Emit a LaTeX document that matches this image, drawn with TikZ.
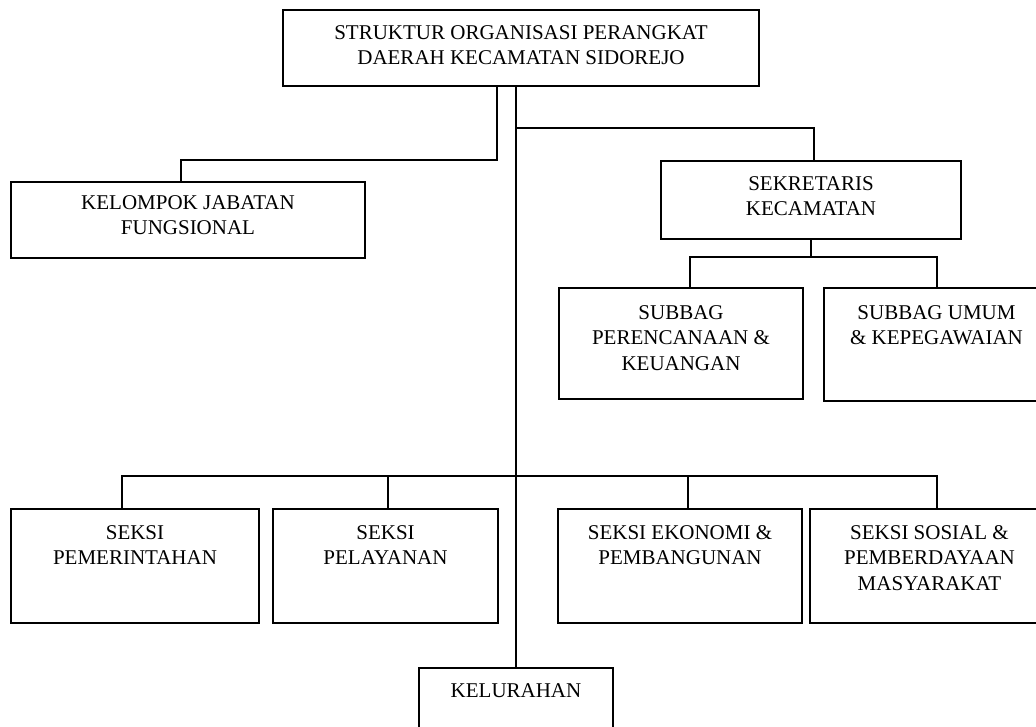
\documentclass[tikz,border=0pt]{standalone}
\usepackage{fontspec}
\setmainfont{Liberation Serif}
\usetikzlibrary{positioning, calc}

\tikzset{
  box/.style={draw, line width=2pt, inner sep=0pt, anchor=north west},
  boxtext/.style={align=center, inner sep=0pt, font=\fontsize{21}{25.5}\selectfont},
  link/.style={line width=2pt},
}

\begin{document}
\begin{tikzpicture}[x=1pt, y=-1pt]
  \useasboundingbox (0,0) rectangle (1036,726);
  \clip (0,0) rectangle (1036,726);

  % Boxes
  \node[box, minimum width=476pt, minimum height=76pt] (kepala) at (282,9) {};
  \node[box, minimum width=354pt, minimum height=76pt] (kjf) at (10,181) {};
  \node[box, minimum width=300pt, minimum height=78pt] (sekcam) at (660,160) {};
  \node[box, minimum width=244pt, minimum height=111pt] (subren) at (558,287) {};
  \node[box, minimum width=225pt, minimum height=113pt] (subum) at (823,287) {};
  \node[box, minimum width=248pt, minimum height=114pt] (spem) at (10,508) {};
  \node[box, minimum width=225pt, minimum height=114pt] (spel) at (272,508) {};
  \node[box, minimum width=244pt, minimum height=114pt] (seko) at (557,508) {};
  \node[box, minimum width=239pt, minimum height=114pt] (ssos) at (809,508) {};
  \node[box, minimum width=194pt, minimum height=80pt] (kel) at (418,667) {};

  % Texts
  \node[boxtext, below=16pt of kepala.north] (kepala-t) {STRUKTUR ORGANISASI PERANGKAT\\DAERAH KECAMATAN SIDOREJO};
  \node[boxtext, below=14pt of kjf.north] (kjf-t) {KELOMPOK JABATAN\\FUNGSIONAL};
  \node[boxtext, below=16pt of sekcam.north] (sekcam-t) {SEKRETARIS\\KECAMATAN};
  \node[boxtext, below=18pt of subren.north] (subren-t) {SUBBAG\\PERENCANAAN \&\\KEUANGAN};
  \node[boxtext, below=18pt of subum.north] (subum-t) {SUBBAG UMUM\\\& KEPEGAWAIAN};
  \node[boxtext, below=17pt of spem.north] (spem-t) {SEKSI\\PEMERINTAHAN};
  \node[boxtext, below=17pt of spel.north] (spel-t) {SEKSI\\PELAYANAN};
  \node[boxtext, below=17pt of seko.north] (seko-t) {SEKSI EKONOMI \&\\PEMBANGUNAN};
  \node[boxtext, below=17pt of ssos.north] (ssos-t) {SEKSI SOSIAL \&\\PEMBERDAYAAN\\MASYARAKAT};
  \node[boxtext, below=16pt of kel.north] (kel-t) {KELURAHAN};

  % Connectors
  \draw[link] (kel.north) -- (kel.north |- kepala.south);
  \coordinate (kiri) at (497,85);
  \draw[link] (kiri) -- ++(0,75) -| ([xshift=-7pt]kjf.north);
  \coordinate (kanan) at (kel.north |- 0,128);
  \draw[link] (kanan) -| ([xshift=3pt]sekcam.north);
  \draw[link] (sekcam.south) -- ++(0,17) coordinate (sbar);
  \draw[link] ([xshift=9pt]subren.north) |- (sbar) -| (subum.north);
  \coordinate (bar) at (kel.north |- 0,476);
  \draw[link] ([xshift=-13pt]spem.north) |- ([xshift=7pt]ssos.north |- bar) -- ([xshift=7pt]ssos.north);
  \draw[link] ([xshift=2pt]spel.north) -- ++(0,-32);
  \draw[link] ([xshift=8pt]seko.north) -- ++(0,-32);
\end{tikzpicture}
\end{document}
